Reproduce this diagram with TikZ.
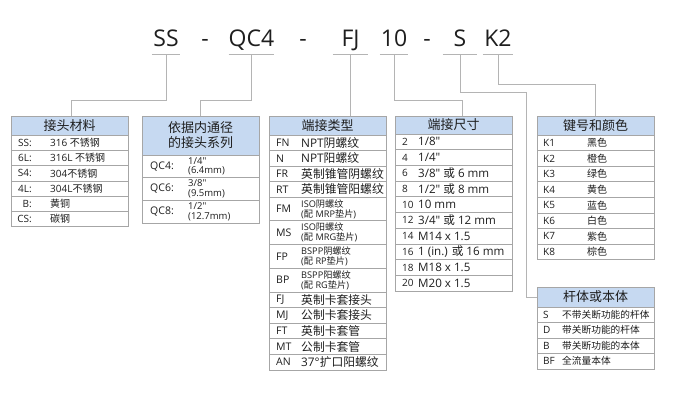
\documentclass[tikz,border=0pt]{standalone}
\usepackage{fontspec}
\setmainfont{Open Sans}[Ligatures=TeXOff]
\newfontfamily\latin{Open Sans}
\newfontfamily\han{Noto Sans CJK SC}
%% Han characters switch to the CJK family by themselves
\XeTeXinterchartokenstate=1
\newXeTeXintercharclass\classeHan
\count255="3000
\loop\ifnum\count255<"A000
  \XeTeXcharclass\count255=\classeHan
  \advance\count255 by 1
\repeat
\XeTeXinterchartoks 0 \classeHan = {\han}
\XeTeXinterchartoks 4095 \classeHan = {\han}
\XeTeXinterchartoks \classeHan 0 = {\latin}
\XeTeXinterchartoks \classeHan 4095 = {\latin}
\usepackage{xcolor}
\definecolor{tabBleu}{HTML}{C6D9F1}
\definecolor{tabBord}{HTML}{A6A6A6}
\definecolor{tabTrait}{HTML}{B4B4B4}
\definecolor{tabTexte}{HTML}{1E1E1E}
\usepackage{tikz}
\tikzset{
  %% ── Cases ────────────────────────────────────────────────────────────
  %% Every table is 117pt wide; a header is blue, a row is white, and rows
  %% are stacked at coordinates so that their borders coincide.
  blocTete/.style  = {draw=tabBord, fill=tabBleu, line width=0.7pt,
                      anchor=north west, minimum width=117pt, inner sep=0pt,
                      outer sep=0pt, align=center, text=tabTexte,
                      font=\fontsize{13}{15}\selectfont},
  blocCase/.style  = {draw=tabBord, fill=white, line width=0.7pt,
                      anchor=north west, minimum width=117pt, inner sep=0pt,
                      outer sep=0pt},
  %%
  %% ── Textes ───────────────────────────────────────────────────────────
  codeTete/.style  = {anchor=base, inner sep=0pt, text=tabTexte,
                      font=\fontsize{23}{26}\selectfont},
  codeCase/.style  = {anchor=west, inner sep=0pt, text=tabTexte},
  texteCase/.style = {anchor=west, inner sep=0pt, text=tabTexte, align=left},
  texteDouble/.style = {texteCase, font=\fontsize{9.2}{10}\selectfont},
  %%
  %% ── Traits ───────────────────────────────────────────────────────────
  trait/.style     = {draw=tabTrait, line width=0.8pt},
  souligne/.style  = {draw=tabTrait, line width=1pt},
}

\begin{document}
\begin{tikzpicture}[x=1pt, y=-1pt, font=\fontsize{10}{12}\selectfont]

\fill[white] (0,0) rectangle (700,417);
\useasboundingbox (0,0) rectangle (700,417);

\foreach \n/\t/\x/\w in {cMat/SS/166/28, cSerie/QC4/251.5/45, cEnd/FJ/350.5/35,
                         cDim/10/394/28, cCorps/S/460/34, cCle/K2/498/30}{
  \node[codeTete, minimum width=\w pt] (\n) at (\x,47) {\t};
  \draw[souligne] ([yshift=-8pt]\n.base west) -- ([yshift=-8pt]\n.base east);
  \coordinate (u\n) at ([yshift=-8pt]\n.base);
}
\foreach \i/\x in {1/205, 2/303, 3/427}
  \node[codeTete] (tiret\i) at (\x,47) {-};

\node[blocTete, minimum height=19pt] (hMat) at (11,116) {接头材料};
\foreach \c/\d [count=\i] in {SS:/316 不锈钢, 6L:/316L 不锈钢, S4:/304不锈钢,
                              4L:/304L不锈钢, B:/黄铜, CS:/碳钢}{
  \node[blocCase, minimum height=15.3pt] (mat\i) at (11,{135+15.3*(\i-1)}) {};
  \node[codeCase, anchor=east] (mat\i-c) at ([xshift=21pt]mat\i.west) {\c};
  \node[texteCase] (mat\i-d) at ([xshift=39pt]mat\i.west) {\d};
}

\node[blocTete, minimum height=39pt] (hSerie) at (142,116) {依据内通径\\的接头系列};
\foreach \c/\d [count=\i] in {QC4:/{1/4"\\(6.4mm)}, QC6:/{3/8"\\(9.5mm)},
                              QC8:/{1/2"\\(12.7mm)}}{
  \node[blocCase, minimum height=22.7pt] (ser\i) at (142,{155+22.7*(\i-1)}) {};
  \node[codeCase, font=\fontsize{10.5}{12}\selectfont] (ser\i-c)
       at ([xshift=8pt]ser\i.west) {\c};
  \node[texteCase, font=\fontsize{9.5}{9.5}\selectfont] (ser\i-d)
       at ([xshift=46pt]ser\i.west) {\d};
}

\node[blocTete, minimum height=19pt] (hEnd) at (269,116) {端接类型};
\foreach \c/\d/\y in {FN/NPT阴螺纹/135, N/NPT阳螺纹/150.5, FR/英制锥管阴螺纹/166,
                      RT/英制锥管阳螺纹/181.5, FJ/英制卡套接头/292, MJ/公制卡套接头/307.6,
                      FT/英制卡套管/323.2, MT/公制卡套管/338.8, AN/37°扩口阳螺纹/354.4}{
  \node[blocCase, minimum height=15.6pt] (end\c) at (269,\y) {};
  \node[codeCase, font=\fontsize{10.5}{12}\selectfont] (end\c-c)
       at ([xshift=7pt]end\c.west) {\c};
  \node[texteCase, font=\fontsize{11.8}{13}\selectfont] (end\c-d)
       at ([xshift=32pt]end\c.west) {\d};
}
\foreach \c/\d/\y in {FM/{ISO阴螺纹\\(配 MRP垫片)}/197, MS/{ISO阳螺纹\\(配 MRG垫片)}/220.75,
                      FP/{BSPP阴螺纹\\(配 RP垫片)}/244.5, BP/{BSPP阳螺纹\\(配 RG垫片)}/268.25}{
  \node[blocCase, minimum height=23.75pt] (end\c) at (269,\y) {};
  \node[codeCase, font=\fontsize{10.5}{12}\selectfont] (end\c-c)
       at ([xshift=7pt]end\c.west) {\c};
  \node[texteDouble] (end\c-d) at ([xshift=32pt]end\c.west) {\d};
}

\node[blocTete, minimum height=18pt] (hDim) at (395,116) {端接尺寸};
\foreach \c/\d [count=\i] in {2/{1/8"}, 4/{1/4"}, 6/{3/8" 或 6 mm}, 8/{1/2" 或 8 mm},
                              10/10 mm, 12/{3/4" 或 12 mm}, 14/M14 x 1.5,
                              16/1 (in.) 或 16 mm, 18/M18 x 1.5, 20/M20 x 1.5}{
  \node[blocCase, minimum height=15.7pt] (dim\i) at (395,{134+15.7*(\i-1)}) {};
  \node[codeCase] (dim\i-c) at ([xshift=7pt]dim\i.west) {\c};
  \node[texteCase, font=\fontsize{11.6}{13}\selectfont] (dim\i-d)
       at ([xshift=23pt]dim\i.west) {\d};
}

\node[blocTete, minimum height=19pt] (hCle) at (537,116) {键号和颜色};
\foreach \c/\d [count=\i] in {K1/黑色, K2/橙色, K3/绿色, K4/黄色,
                              K5/蓝色, K6/白色, K7/紫色, K8/棕色}{
  \node[blocCase, minimum height=15.6pt] (cle\i) at (537,{135+15.6*(\i-1)}) {};
  \node[codeCase] (cle\i-c) at ([xshift=6pt]cle\i.west) {\c};
  \node[texteCase] (cle\i-d) at ([xshift=50pt]cle\i.west) {\d};
}

\node[blocTete, minimum height=20pt] (hCorps) at (537,287) {杆体或本体};
\foreach \c/\d [count=\i] in {S/不带关断功能的杆体, D/带关断功能的杆体,
                              B/带关断功能的本体, BF/全流量本体}{
  \node[blocCase, minimum height=15.5pt] (corps\i) at (537,{307+15.5*(\i-1)}) {};
  \node[codeCase] (corps\i-c) at ([xshift=6pt]corps\i.west) {\c};
  \node[texteCase, font=\fontsize{9.7}{12}\selectfont] (corps\i-d)
       at ([xshift=25pt]corps\i.west) {\d};
}

\draw[trait] (ucMat) -- ++(0,45) -| ([xshift=2pt]hMat.north);
\draw[trait] (ucSerie) -- ++(0,45) -| (hSerie.north);
\draw[trait] (ucEnd) -- (ucEnd |- hEnd.north);
\draw[trait] (ucDim) -- ++(0,45) -| ([xshift=8.5pt]hDim.north);
\draw[trait] (ucCorps) -- ++(0,37) -| ([xshift=-11pt]hCorps.west) -- (hCorps.west);
\draw[trait] (ucCle) -- ++(0,29) -| (hCle.north);

\end{tikzpicture}
\end{document}
